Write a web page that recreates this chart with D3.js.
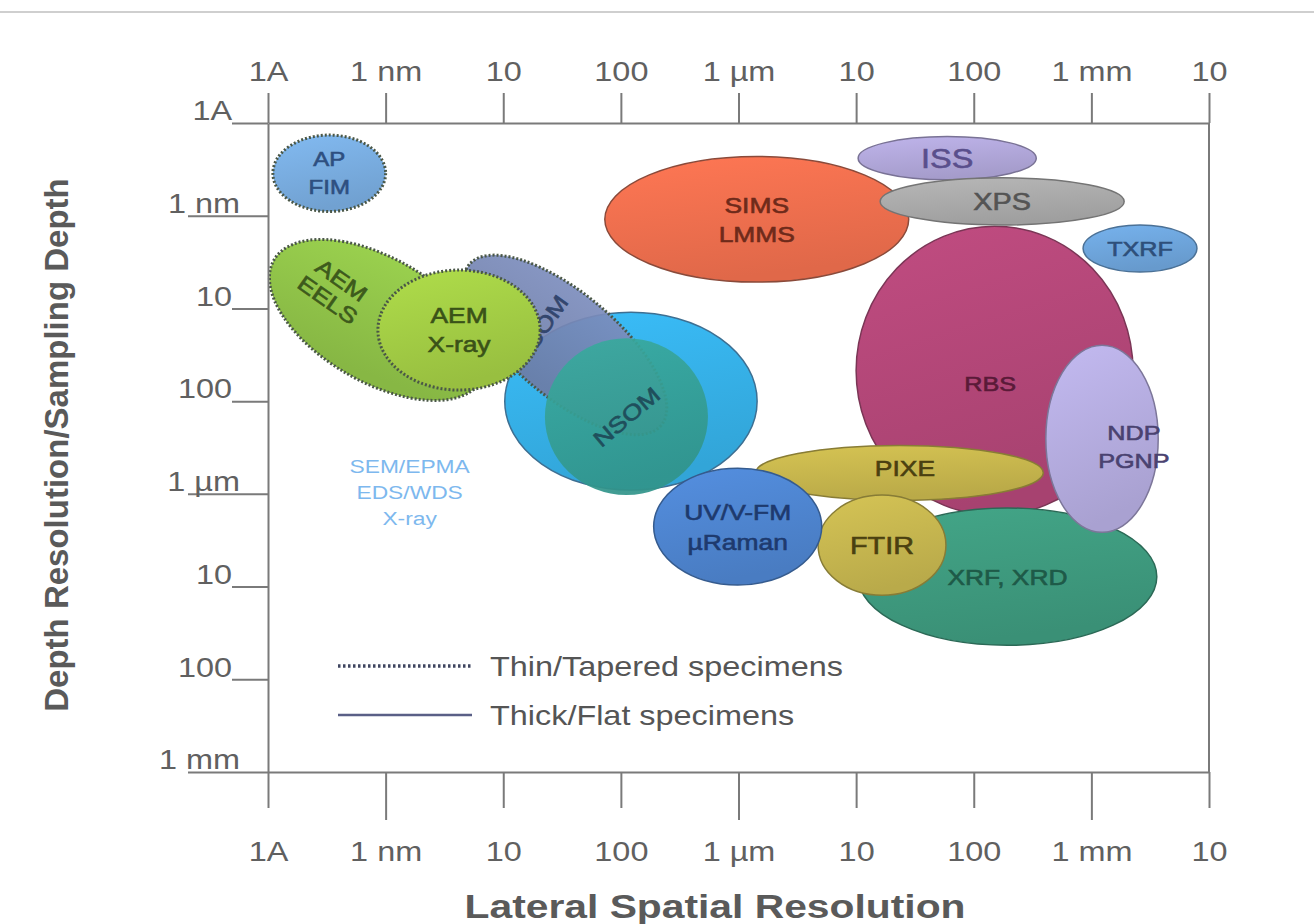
<!DOCTYPE html>
<html>
<head>
<meta charset="utf-8">
<script src="https://cdn.jsdelivr.net/npm/d3@7.9.0/dist/d3.min.js"></script>
<style>
  body { margin: 0; background: #fff; }
  text { font-family: "Liberation Sans", Arial, sans-serif; }
</style>
</head>
<body>
<svg width="1314" height="924"></svg>
<script>
// axis ticks (metres) and their labels
const xTicks = [1e-10, 1e-9, 1e-8, 1e-7, 1e-6, 1e-5, 1e-4, 1e-3, 1e-2];
const xTickLabels = ["1A", "1 nm", "10", "100", "1 µm", "10", "100", "1 mm", "10"];
const yTicks = [1e-10, 1e-9, 1e-8, 1e-7, 1e-6, 1e-5, 1e-4, 1e-3];
const yTickLabels = ["1A", "1 nm", "10", "100", "1 µm", "10", "100", "1 mm"];
const longTicks = [1e-9, 1e-6, 1e-3];

// techniques, in drawing order (back to front)
const techniques = ["SEM", "NSOM_thin", "NSOM", "AEM_EELS", "AEM_XRAY", "AP_FIM", "SIMS", "ISS",
                    "RBS", "XPS", "TXRF", "XRF", "PIXE", "NDP", "FTIR", "UV"];
const techLabels = [["SEM/EPMA", "EDS/WDS", "X-ray"], ["NSOM"], ["NSOM"], ["AEM", "EELS"], ["AEM", "X-ray"],
                    ["AP", "FIM"], ["SIMS", "LMMS"], ["ISS"], ["RBS"], ["XPS"], ["TXRF"], ["XRF, XRD"],
                    ["PIXE"], ["NDP", "PGNP"], ["FTIR"], ["UV/V-FM", "µRaman"]];
// lateral resolution range [min, max] in metres
const lateralRange = [[1.03e-8, 1.44e-6], [2.9e-9, 3.9e-7], [2.26e-8, 5.5e-7], [8.2e-11, 9e-9], [8.6e-10, 2.06e-8],
                      [1.1e-10, 1e-9], [7.3e-8, 2.8e-5], [1.04e-5, 3.4e-4], [1e-5, 2.26e-3], [1.6e-5, 1.9e-3],
                      [8.5e-4, 7.9e-3], [1.04e-5, 3.6e-3], [1.4e-6, 3.9e-4], [4.1e-4, 3.7e-3], [4.75e-6, 5.8e-5],
                      [1.9e-7, 5.1e-6]];
// depth resolution range [min, max] in metres
const depthRange = [[1.1e-8, 9.1e-7], [6.8e-9, 9e-8], [2.1e-8, 1.03e-6], [2.86e-9, 6.2e-8], [3.85e-9, 7.6e-8],
                    [1.35e-10, 9e-10], [2.3e-10, 5.2e-9], [1.4e-10, 4.1e-10], [1.3e-9, 1.7e-6], [3.9e-10, 1.26e-9],
                    [1.26e-9, 4.05e-9], [1.42e-6, 4.3e-5], [3e-7, 1.17e-6], [2.5e-8, 2.6e-6], [1.03e-6, 1.24e-5],
                    [5.3e-7, 9.6e-6]];
// specimen type: thin/tapered (dotted) or thick/flat (solid)
const specimen = ["thick", "thin", "thick", "thin", "thin", "thin", "thick", "thick",
                  "thick", "thick", "thick", "thick", "thick", "thick", "thick", "thick"];
// label anchors (metres) where the label is not at the centre
const labelAt = { SEM: [1.6e-9, 9.5e-7], NSOM_thin: [2.06e-8, 1.7e-8], AEM_EELS: [3.7e-10, 6.3e-9],
                  RBS: [1.38e-4, 6.4e-8], NDP: [2.3e-3, 3.1e-7], PIXE: [2.6e-5, 5.3e-7] };
const legendItems = ["Thin/Tapered specimens", "Thick/Flat specimens"];

// styles
const style = {
  SEM:       { fill: "#36b2ea", text: "#7db8ee", size: 19, lh: 26, stroke: "#3d6f92", thin: true },
  NSOM_thin: { fill: "#7686b4", text: "#33466e", size: 22, rot: 40, lrot: -55, opacity: 0.92 },
  NSOM:      { fill: "#35a095", text: "#1f4f5c", size: 22, lrot: -40, opacity: 0.92, noStroke: true },
  AEM_EELS:  { fill: "#92c64a", text: "#3d5a1c", size: 22, rot: 30, lrot: 35, lh: 24 },
  AEM_XRAY:  { fill: "#a4cf45", text: "#3a5218", size: 22, lh: 29 },
  AP_FIM:    { fill: "#7aaee2", text: "#2e4f80", size: 20, lh: 28 },
  SIMS:      { fill: "#f2704f", text: "#6e2a1a", size: 22, lh: 29, stroke: "#8a4a3a" },
  ISS:       { fill: "#b3a9dc", text: "#5a4f8c", size: 27 },
  RBS:       { fill: "#b54779", text: "#5a1a38", size: 21, stroke: "#7a3555" },
  XPS:       { fill: "#acacac", text: "#545454", size: 24 },
  TXRF:      { fill: "#6fa7de", text: "#2e4f7a", size: 21 },
  XRF:       { fill: "#3f9c80", text: "#1e5a48", size: 22 },
  PIXE:      { fill: "#c9b84e", text: "#4a4010", size: 22 },
  NDP:       { fill: "#b7aee2", text: "#4a4270", size: 21, lh: 28 },
  FTIR:      { fill: "#c8b850", text: "#4a4010", size: 24 },
  UV:        { fill: "#4f86d2", text: "#1e3a6e", size: 22, lh: 30 }
};
const K = 1.2; // the picture is stretched horizontally

const svg = d3.select("svg");
const x = d3.scaleLog().domain([1e-10, 1e-2]).range([268, 1209]);
const y = d3.scaleLog().domain([1e-10, 1e-3]).range([123, 772]);

// scan border at the top
svg.append("line").attr("x1", 0).attr("x2", 1314).attr("y1", 12).attr("y2", 12)
  .attr("stroke", "#cfcfcf").attr("stroke-width", 2);

const defs = svg.append("defs");
const plot = svg.append("g");

techniques.forEach((name, i) => {
  const st = style[name];
  const [l0, l1] = lateralRange[i];
  const [d0, d1] = depthRange[i];
  const cx = (x(l0) + x(l1)) / 2, cy = (y(d0) + y(d1)) / 2;
  const rx = (x(l1) - x(l0)) / 2, ry = (y(d1) - y(d0)) / 2;
  const base = d3.color(st.fill);

  const grad = defs.append("linearGradient").attr("id", "g" + i)
    .attr("x1", 0).attr("y1", 0).attr("x2", 0.3).attr("y2", 1);
  grad.append("stop").attr("offset", "0%").attr("stop-color", base.brighter(0.18));
  grad.append("stop").attr("offset", "100%").attr("stop-color", base.darker(0.22));

  const g = plot.append("g");
  const e = g.append("ellipse")
    .attr("cx", cx).attr("cy", cy).attr("rx", rx).attr("ry", ry)
    .attr("transform", st.rot ? `rotate(${st.rot},${cx},${cy})` : null)
    .attr("fill", `url(#g${i})`)
    .attr("fill-opacity", st.opacity || 1);
  if (specimen[i] === "thin") {
    e.attr("stroke", "#4a5747").attr("stroke-width", 3).attr("stroke-dasharray", "2 2");
  } else if (!st.noStroke) {
    e.attr("stroke", st.stroke || base.darker(1.1)).attr("stroke-width", 1.5);
  }

  const pos = labelAt[name] ? [x(labelAt[name][0]), y(labelAt[name][1])] : [cx, cy];
  const lines = techLabels[i];
  const lh = st.lh || st.size * 1.25;
  const lg = g.append("g")
    .attr("transform", `translate(${pos[0]},${pos[1]}) rotate(${st.lrot || 0}) scale(${K},1)`);
  lines.forEach((t, j) => {
    lg.append("text")
      .attr("y", (j - (lines.length - 1) / 2) * lh)
      .attr("dy", "0.36em")
      .attr("text-anchor", "middle")
      .attr("font-size", st.size)
      .attr("fill", st.text)
      .attr("stroke", st.thin ? null : st.text)
      .attr("stroke-width", 0.6)
      .text(t);
  });
});

// axes
const axisColor = "#7a7a7a", labelColor = "#606060";
function styleAxis(g) {
  g.select(".domain").attr("stroke", axisColor).attr("stroke-width", 2);
  g.selectAll(".tick line").attr("stroke", axisColor).attr("stroke-width", 2);
  g.selectAll(".tick text").attr("fill", labelColor).attr("font-size", 27)
    .attr("font-family", "Liberation Sans, Arial, sans-serif");
}

const axisTopG = svg.append("g").attr("transform", `translate(0,${y.range()[0]})`)
  .call(d3.axisTop(x).tickValues(xTicks).tickFormat((d, i) => xTickLabels[i])
    .tickSize(30).tickSizeOuter(0).tickPadding(12))
  .call(styleAxis);
axisTopG.selectAll(".tick text").attr("transform", `scale(${K},1)`);

const axisBottomG = svg.append("g").attr("transform", `translate(0,${y.range()[1]})`)
  .call(d3.axisBottom(x).tickValues(xTicks).tickFormat((d, i) => xTickLabels[i])
    .tickSize(36).tickSizeOuter(0))
  .call(styleAxis);
axisBottomG.selectAll(".tick line").attr("y2", d => longTicks.includes(d) ? 48 : 36);
axisBottomG.selectAll(".tick text").attr("y", 70).attr("transform", `scale(${K},1)`);

const axisLeftG = svg.append("g").attr("transform", `translate(${x.range()[0]},0)`)
  .call(d3.axisLeft(y).tickValues(yTicks).tickFormat((d, i) => yTickLabels[i])
    .tickSize(36).tickSizeOuter(0))
  .call(styleAxis);
axisLeftG.selectAll(".tick line").attr("x2", d => longTicks.includes(d) ? -80 : -36);
axisLeftG.selectAll(".tick text").attr("x", 0).attr("dy", "-0.12em")
  .attr("transform", d => `translate(${longTicks.includes(d) ? -28 : -36},0) scale(${K},1)`);

// right border
svg.append("line")
  .attr("x1", x.range()[1]).attr("x2", x.range()[1])
  .attr("y1", y.range()[0]).attr("y2", y.range()[1])
  .attr("stroke", axisColor).attr("stroke-width", 2);

// legend
const legend = svg.append("g").attr("transform", "translate(338,666)");
legendItems.forEach((t, i) => {
  const row = legend.append("g").attr("transform", `translate(0,${i * 49})`);
  row.append("line").attr("x1", 0).attr("x2", 134)
    .attr("stroke", i === 0 ? "#3f4560" : "#5a5f86")
    .attr("stroke-width", i === 0 ? 3.5 : 2.5)
    .attr("stroke-dasharray", i === 0 ? "2.5 2.5" : null);
  row.append("text").attr("x", 0).attr("dy", "0.36em")
    .attr("transform", `translate(152,0) scale(${K},1)`)
    .attr("font-size", 27).attr("fill", "#555").text(t);
});

// axis titles
svg.append("text")
  .attr("transform", `translate(715,918) scale(${K},1)`)
  .attr("text-anchor", "middle").attr("font-size", 34).attr("font-weight", "bold")
  .attr("fill", "#5a5a5a").text("Lateral Spatial Resolution");
svg.append("text")
  .attr("transform", "translate(68,445) rotate(-90)")
  .attr("text-anchor", "middle").attr("font-size", 33).attr("font-weight", "bold")
  .attr("fill", "#5a5a5a").text("Depth Resolution/Sampling Depth");
</script>
</body>
</html>
